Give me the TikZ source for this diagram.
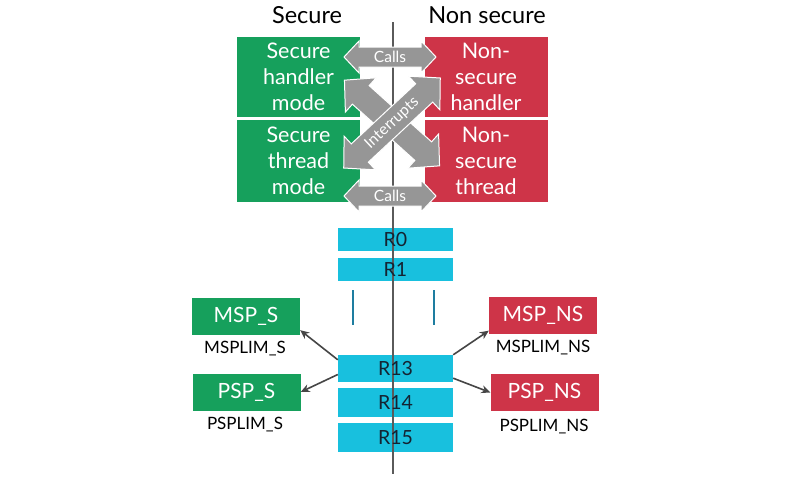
\documentclass[tikz,border=0pt]{standalone}
\usepackage{fontspec}
\setmainfont{Lato}
\usetikzlibrary{arrows.meta}
\definecolor{sgreen}{RGB}{22,160,92}
\definecolor{nsred}{RGB}{206,52,72}
\definecolor{regcyan}{RGB}{24,192,222}
\definecolor{arrgray}{RGB}{150,150,150}
\definecolor{linegray}{RGB}{90,90,90}
\definecolor{ptrgray}{RGB}{70,70,70}
\definecolor{tickblue}{RGB}{30,125,160}
\definecolor{regtext}{RGB}{20,35,50}
\newcommand{\grayarrow}[8]{% x y angle L shafthalf headhalf headlen name
  \begin{scope}[shift={(#1,#2)},rotate=#3]
    \fill[arrgray,draw=white,line width=1pt]
      ({-#4/2},0) -- ({-#4/2+#7},#6) -- ({-#4/2+#7},#5) -- ({#4/2-#7},#5)
      -- ({#4/2-#7},#6) -- ({#4/2},0) -- ({#4/2-#7},-#6) -- ({#4/2-#7},-#5)
      -- ({-#4/2+#7},-#5) -- ({-#4/2+#7},-#6) -- cycle;
    \coordinate (#8) at (0,0);
  \end{scope}}
\begin{document}
\begin{tikzpicture}[x=1pt,y=-1pt,
  modebox/.style={minimum width=123pt,inner sep=0pt,text=white,
    font=\fontsize{21.5}{26}\selectfont,align=center},
  titletext/.style={font=\fontsize{23.5}{26}\selectfont,text=black,inner sep=0pt},
  regbox/.style={fill=regcyan,minimum width=115pt,inner sep=0pt},
  regtxt/.style={text=regtext,inner sep=0pt,font=\fontsize{19.5}{22}\selectfont},
  spbox/.style={minimum width=108pt,minimum height=37pt,inner sep=0pt,text=white,
    font=\fontsize{21}{24}\selectfont},
  limtext/.style={font=\fontsize{17}{20}\selectfont,text=black,inner sep=0pt},
  arrtext/.style={font=\fontsize{15.5}{18}\selectfont,text=white,inner sep=0pt},
  vline/.style={draw=linegray,line width=1.8pt},
  ticks/.style={draw=tickblue,line width=2.5pt},
  ptr/.style={draw=ptrgray,line width=1.6pt,-{Stealth[length=9pt,width=8pt]}}]
\useasboundingbox (0,0) rectangle (785,479);
\fill[white] (0,0) rectangle (785,479);

% titles
\node[titletext] (ts) at (307,15) {Secure};
\node[titletext] (tn) at (487,15) {Non secure};

% mode boxes
\node[modebox,fill=sgreen,minimum height=80pt] (sh) at (298.5,77) {Secure\\handler\\mode};
\node[modebox,fill=sgreen,minimum height=82pt] (st) at (298.5,161) {Secure\\thread\\mode};
\node[modebox,fill=nsred,minimum height=80pt] (nh) at (486,77) {Non-\\secure\\handler};
\node[modebox,fill=nsred,minimum height=82pt] (nt) at (486,161) {Non-\\secure\\thread};

% registers (boxes)
\node[regbox,minimum height=23pt] (r0) at (395.5,239.5) {};
\node[regbox,minimum height=23pt] (r1) at (395.5,269.5) {};
\node[regbox,minimum height=27pt] (r13) at (395.5,368.5) {};
\node[regbox,minimum height=29pt] (r14) at (395.5,402.5) {};
\node[regbox,minimum height=29pt] (r15) at (395.5,437.5) {};

% centre line
\coordinate (ltop) at (393,22);
\coordinate (lbot) at (393,474);
\draw[vline] (ltop) -- (lbot);

% register labels
\node[regtxt] (r0t) at (r0) {R0};
\node[regtxt] (r1t) at (r1) {R1};
\node[regtxt] (r13t) at (r13) {R13};
\node[regtxt] (r14t) at (r14) {R14};
\node[regtxt] (r15t) at (r15) {R15};

% ellipsis ticks
\coordinate (t1a) at (353,290); \coordinate (t1b) at (353,325);
\coordinate (t2a) at (434,290); \coordinate (t2b) at (434,325);
\draw[ticks] (t1a) -- (t1b);
\draw[ticks] (t2a) -- (t2b);

% gray arrows
\grayarrow{390}{57}{0}{92}{10}{16}{15}{calls1}
\grayarrow{390}{196}{0}{92}{10}{16}{15}{calls2}
\grayarrow{392}{123}{-42}{128}{12.5}{23}{22}{intB}
\grayarrow{392}{123}{43}{132}{12.5}{23}{22}{intA}
\node[arrtext] (callsA) at (calls1) {Calls};
\node[arrtext] (callsB) at (calls2) {Calls};
\node[arrtext,rotate=43] (intr) at (intA) {Interrupts};

% stack pointers
\node[spbox,fill=sgreen] (msps) at (246,316.5) {MSP\_S};
\node[spbox,fill=sgreen] (psps) at (246.5,392) {PSP\_S};
\node[spbox,fill=nsred] (mspns) at (543,315) {MSP\_NS};
\node[spbox,fill=nsred] (pspns) at (544.5,392.5) {PSP\_NS};
\node[limtext] (mlims) at (245,349) {MSPLIM\_S};
\node[limtext] (plims) at (245,425) {PSPLIM\_S};
\node[limtext] (mlimns) at (543,348) {MSPLIM\_NS};
\node[limtext] (plimns) at (544,427) {PSPLIM\_NS};

% pointers
\draw[ptr] ([yshift=-5pt]r13.north west) -- ([yshift=5pt]msps.south east);
\draw[ptr] ([yshift=-6pt]r13.west) -- (psps.east);
\draw[ptr] (r13.north east) -- ([yshift=3pt]mspns.south west);
\draw[ptr] ([yshift=4pt]r13.south east) -- (pspns.west);
\end{tikzpicture}
\end{document}
